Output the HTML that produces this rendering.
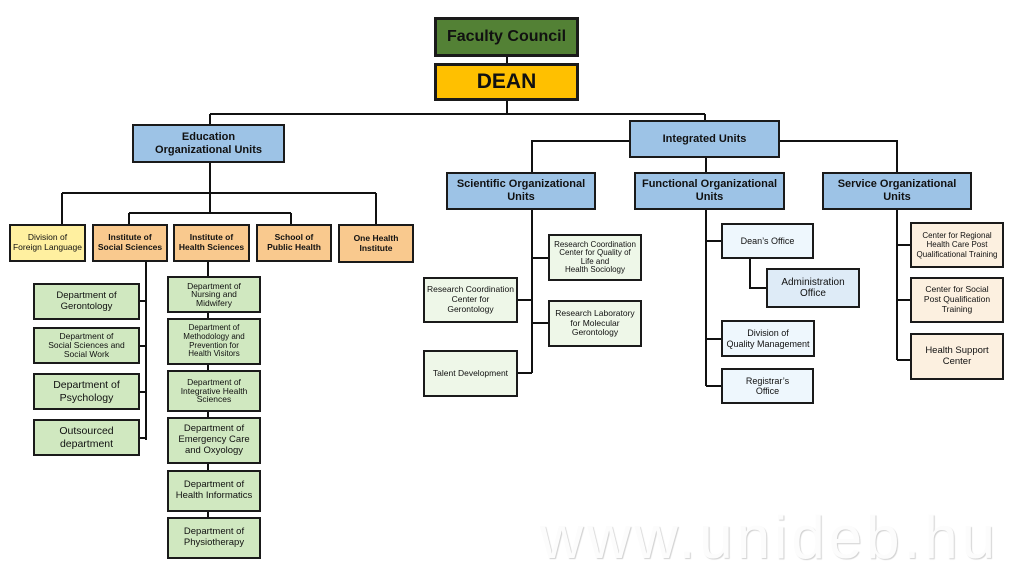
<!DOCTYPE html>
<html><head><meta charset="utf-8"><style>
body{margin:0;width:1024px;height:579px;background:#fff;position:relative;overflow:hidden;font-family:"Liberation Sans",sans-serif;}
.b{position:absolute;box-sizing:border-box;border:2px solid #1a1a1a;display:flex;align-items:center;justify-content:center;text-align:center;line-height:1.15;color:#111;}
.blue{background:#9DC3E6;font-weight:bold;font-size:11px;}
.or{background:#F9C98E;font-weight:bold;font-size:8.5px;}
.gr{background:#D0E8C0;font-size:9.5px;}
.lg{background:#EEF7E8;font-size:8.5px;}
.lb{background:#EEF7FD;font-size:9px;}
.pe{background:#FCF0E0;font-size:8.5px;}
svg{position:absolute;left:0;top:0}
.wm{position:absolute;left:540px;top:503px;font-size:60px;letter-spacing:4px;color:#fcfcfc;text-shadow:1px 1px 1px #d0d0d0;font-weight:300;white-space:nowrap;}
</style></head><body>
<div class="wm">www.unideb.hu</div>
<svg width="1024" height="579" stroke="#111" stroke-width="2" fill="none">
<path d="M507 56V63M507 100V114M210 114H705M210 114V124M705 114V120"/>
<path d="M629 141H532V172M780 141H897V172M706 158V172"/>
<path d="M210 163V213M62 193H376M62 193V224M376 193V224M129 213H291M129 213V224M291 213V224"/>
<path d="M146 262V440M140 301H146M140 346H146M140 392H146M140 438H146"/>
<path d="M208 262V520"/>
<path d="M532 209V373M532 258H548M532 323H548M518 300H532M518 373H532"/>
<path d="M706 209V386M706 241H721M706 339H721M706 386H721M750 258V288H766"/>
<path d="M897 209V360M897 245H910M897 300H910M897 360H910"/>
</svg>
<div class="b" style="left:434px;top:17px;width:145px;height:40px;background:#538135;border-width:3px;font-weight:bold;font-size:16px;">Faculty Council</div>
<div class="b" style="left:434px;top:63px;width:145px;height:38px;background:#FFC000;border-width:3px;font-weight:bold;font-size:21px;">DEAN</div>
<div class="b blue" style="left:132px;top:124px;width:153px;height:39px;">Education<br>Organizational Units</div>
<div class="b blue" style="left:629px;top:120px;width:151px;height:38px;">Integrated Units</div>
<div class="b blue" style="left:446px;top:172px;width:150px;height:38px;">Scientific Organizational<br>Units</div>
<div class="b blue" style="left:634px;top:172px;width:151px;height:38px;">Functional Organizational<br>Units</div>
<div class="b blue" style="left:822px;top:172px;width:150px;height:38px;">Service Organizational<br>Units</div>
<div class="b" style="left:9px;top:224px;width:77px;height:38px;background:#FFF0A0;font-size:8.5px;">Division of<br>Foreign Language</div>
<div class="b or" style="left:92px;top:224px;width:76px;height:38px;">Institute of<br>Social Sciences</div>
<div class="b or" style="left:173px;top:224px;width:77px;height:38px;">Institute of<br>Health Sciences</div>
<div class="b or" style="left:256px;top:224px;width:76px;height:38px;">School of<br>Public Health</div>
<div class="b or" style="left:338px;top:224px;width:76px;height:39px;">One Health<br>Institute</div>
<div class="b gr" style="left:33px;top:283px;width:107px;height:37px;">Department of<br>Gerontology</div>
<div class="b gr" style="left:33px;top:327px;width:107px;height:37px;font-size:8.5px;line-height:1.05">Department of<br>Social Sciences and<br>Social Work</div>
<div class="b gr" style="left:33px;top:373px;width:107px;height:37px;font-size:10.5px">Department of<br>Psychology</div>
<div class="b gr" style="left:33px;top:419px;width:107px;height:37px;font-size:10.5px">Outsourced<br>department</div>
<div class="b gr" style="left:167px;top:276px;width:94px;height:37px;font-size:8.5px;line-height:1">Department of<br>Nursing and<br>Midwifery</div>
<div class="b gr" style="left:167px;top:318px;width:94px;height:47px;font-size:8px;line-height:1.1">Department of<br>Methodology and<br>Prevention for<br>Health Visitors</div>
<div class="b gr" style="left:167px;top:370px;width:94px;height:42px;font-size:8.5px;line-height:1">Department of<br>Integrative Health<br>Sciences</div>
<div class="b gr" style="left:167px;top:417px;width:94px;height:47px;">Department of<br>Emergency Care<br>and Oxyology</div>
<div class="b gr" style="left:167px;top:470px;width:94px;height:42px;">Department of<br>Health Informatics</div>
<div class="b gr" style="left:167px;top:517px;width:94px;height:42px;">Department of<br>Physiotherapy</div>
<div class="b lg" style="left:548px;top:234px;width:94px;height:47px;font-size:8px;line-height:1.05">Research Coordination<br>Center for Quality of<br>Life and<br>Health Sociology</div>
<div class="b lg" style="left:548px;top:300px;width:94px;height:47px;">Research Laboratory<br>for Molecular<br>Gerontology</div>
<div class="b lg" style="left:423px;top:277px;width:95px;height:46px;">Research Coordination<br>Center for<br>Gerontology</div>
<div class="b lg" style="left:423px;top:350px;width:95px;height:47px;">Talent Development</div>
<div class="b lb" style="left:721px;top:223px;width:93px;height:36px;">Dean’s Office</div>
<div class="b lb" style="left:766px;top:268px;width:94px;height:40px;background:#DEEBF7;font-size:10px">Administration<br>Office</div>
<div class="b lb" style="left:721px;top:320px;width:94px;height:37px;">Division of<br>Quality Management</div>
<div class="b lb" style="left:721px;top:368px;width:93px;height:36px;">Registrar’s<br>Office</div>
<div class="b pe" style="left:910px;top:222px;width:94px;height:46px;font-size:8px">Center for Regional<br>Health Care Post<br>Qualificational Training</div>
<div class="b pe" style="left:910px;top:277px;width:94px;height:46px;">Center for Social<br>Post Qualification<br>Training</div>
<div class="b pe" style="left:910px;top:333px;width:94px;height:47px;font-size:9.5px">Health Support<br>Center</div>
</body></html>
